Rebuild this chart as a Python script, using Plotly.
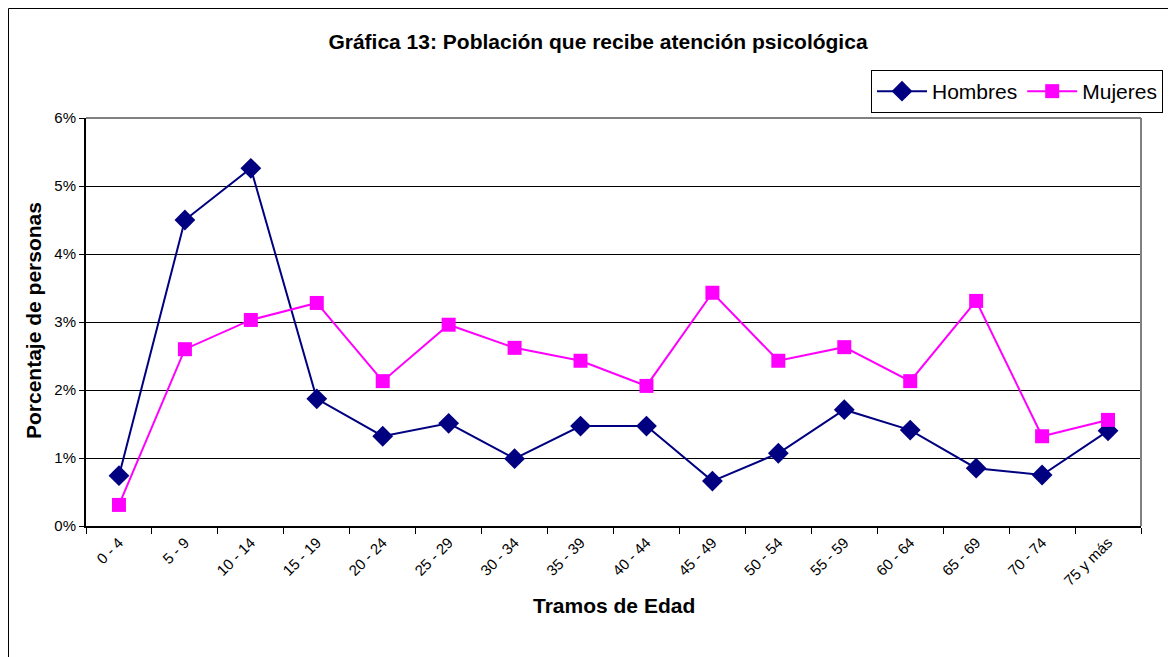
import plotly.graph_objects as go

tramos = ["0 - 4", "5 - 9", "10 - 14", "15 - 19", "20 - 24", "25 - 29", "30 - 34",
          "35 - 39", "40 - 44", "45 - 49", "50 - 54", "55 - 59", "60 - 64",
          "65 - 69", "70 - 74", "75 y más"]
hombres = [0.74, 4.50, 5.26, 1.87, 1.32, 1.51, 0.99, 1.47, 1.47, 0.66, 1.07,
           1.71, 1.41, 0.85, 0.75, 1.40]
mujeres = [0.31, 2.60, 3.03, 3.28, 2.13, 2.96, 2.62, 2.43, 2.06, 3.43, 2.43,
           2.63, 2.13, 3.31, 1.32, 1.56]

FONT = "Liberation Sans, Arial, sans-serif"

# page has an 8px body margin, so the figure is drawn 8px smaller
W, H = 1168, 649
L, T, PW, PH = 78, 110, 1055, 408   # plot area in figure pixels


def px_x(p):
    return (p - L) / PW


def px_y(p):
    return (T + PH - p) / PH


fig = go.Figure()
fig.add_trace(go.Scatter(
    x=tramos, y=hombres, name="Hombres", mode="lines+markers",
    line=dict(color="#000080", width=2),
    marker=dict(symbol="diamond", size=16, color="#000080"),
))
fig.add_trace(go.Scatter(
    x=tramos, y=mujeres, name="Mujeres", mode="lines+markers",
    line=dict(color="#FF00FF", width=2),
    marker=dict(symbol="square", size=14, color="#FF00FF"),
))

shapes = [
    # outer chart frame (left + top only, the rest is cropped)
    dict(type="line", xref="paper", yref="paper", x0=px_x(0.5), x1=px_x(0.5),
         y0=px_y(0.5), y1=px_y(H + 20), line=dict(color="black", width=1)),
    dict(type="line", xref="paper", yref="paper", x0=px_x(0.5), x1=px_x(W + 20),
         y0=px_y(0.5), y1=px_y(0.5), line=dict(color="black", width=1)),
    # grey top / right of plot area
    dict(type="line", xref="paper", yref="paper", x0=0, x1=1, y0=1, y1=1,
         line=dict(color="#808080", width=2)),
    dict(type="line", xref="paper", yref="paper", x0=1, x1=1, y0=0, y1=1,
         line=dict(color="#808080", width=2)),
]

annotations = [
    dict(text="<b>Porcentaje de personas</b>", xref="paper", yref="paper",
         x=px_x(25), y=px_y(313), textangle=-90, showarrow=False,
         xanchor="center", yanchor="middle", font=dict(size=21)),
    dict(text="<b>Tramos de Edad</b>", xref="paper", yref="paper",
         x=px_x(606), y=px_y(597), showarrow=False,
         xanchor="center", yanchor="middle", font=dict(size=21)),
]

fig.update_layout(
    width=W, height=H,
    paper_bgcolor="white", plot_bgcolor="white",
    font=dict(family=FONT, color="black", size=14),
    margin=dict(l=L, r=W - L - PW, t=T, b=H - T - PH),
    title=dict(text="<b>Gráfica 13: Población que recibe atención psicológica</b>",
               x=590 / W, xanchor="center", y=1 - 34 / H, yanchor="middle",
               font=dict(size=21)),
    showlegend=True,
    legend=dict(orientation="h", x=px_x(863), y=px_y(62), xanchor="left", yanchor="top",
                bordercolor="black", borderwidth=1, bgcolor="white",
                font=dict(size=21), itemwidth=50, tracegroupgap=0),
    xaxis=dict(type="category", range=[-0.5, len(tramos) - 0.5],
               tickangle=-45, tickson="boundaries",
               ticks="outside", ticklen=6, tickcolor="black", tickwidth=1,
               showline=True, linecolor="black", linewidth=2,
               showgrid=False, tickfont=dict(size=15)),
    yaxis=dict(range=[0, 6], dtick=1, ticksuffix="%",
               ticks="outside", ticklen=5, tickcolor="black", tickwidth=1,
               showline=True, linecolor="black", linewidth=2,
               showgrid=True, gridcolor="black", gridwidth=1, zeroline=False,
               tickfont=dict(size=15)),
    shapes=shapes,
    annotations=annotations,
)

fig.write_html("out.html")
